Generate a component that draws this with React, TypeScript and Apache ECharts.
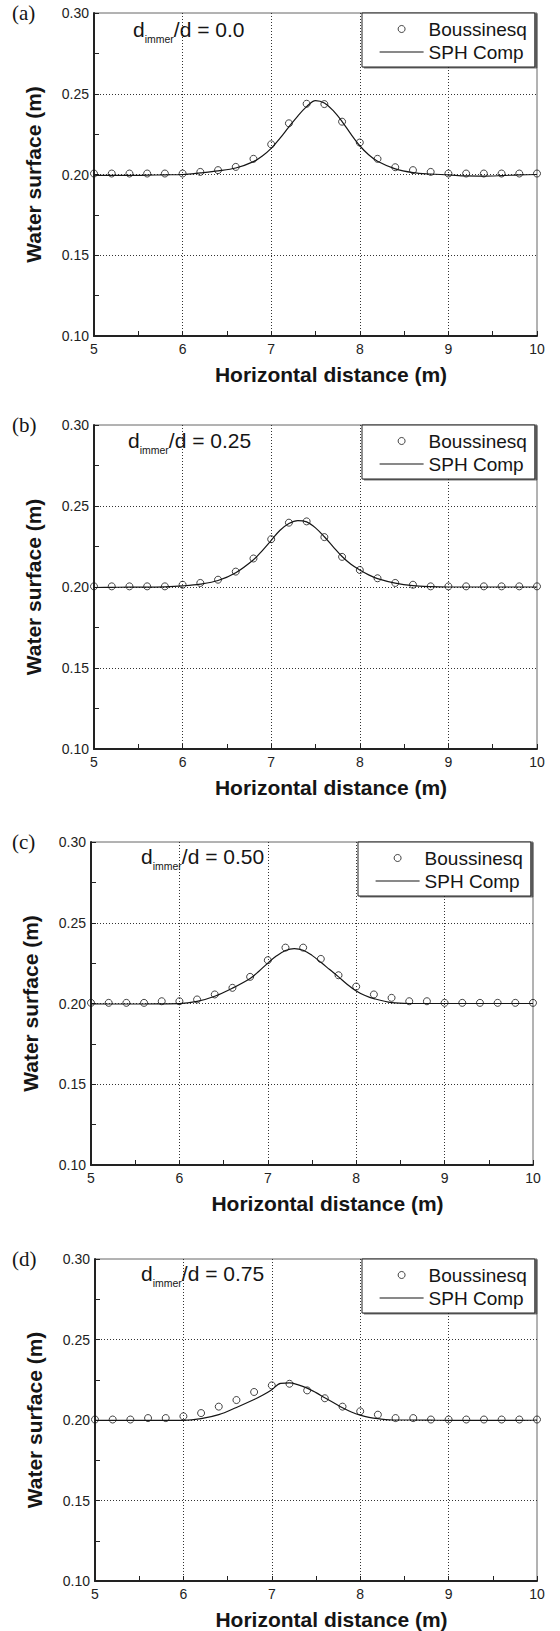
import React, { useEffect, useRef } from 'react';
import * as echarts from 'echarts';

// Boussinesq sample positions (m)
const X_BOUSS = [5.0, 5.2, 5.4, 5.6, 5.8, 6.0, 6.2, 6.4, 6.6, 6.8, 7.0, 7.2, 7.4, 7.6, 7.8, 8.0, 8.2, 8.4, 8.6, 8.8, 9.0, 9.2, 9.4, 9.6, 9.8, 10.0];

const BOUSS_A = [0.2006, 0.2006, 0.2006, 0.2006, 0.2006, 0.2006, 0.2016, 0.2027, 0.2047, 0.2097, 0.2187, 0.2317, 0.2438, 0.2436, 0.2327, 0.2198, 0.2097, 0.2045, 0.2027, 0.2016, 0.2006, 0.2006, 0.2006, 0.2006, 0.2006, 0.2006];
const BOUSS_B = [0.2004, 0.2004, 0.2004, 0.2004, 0.2004, 0.2014, 0.2025, 0.2045, 0.2095, 0.2176, 0.2295, 0.2397, 0.2405, 0.2308, 0.2186, 0.2105, 0.2054, 0.2025, 0.2014, 0.2004, 0.2004, 0.2004, 0.2004, 0.2004, 0.2004, 0.2004];
const BOUSS_C = [0.2004, 0.2004, 0.2004, 0.2004, 0.2014, 0.2014, 0.2025, 0.2056, 0.2097, 0.2165, 0.2268, 0.2346, 0.2346, 0.2276, 0.2175, 0.2105, 0.2056, 0.2035, 0.2014, 0.2014, 0.2004, 0.2004, 0.2004, 0.2004, 0.2004, 0.2004];
const BOUSS_D = [0.2003, 0.2003, 0.2003, 0.2012, 0.2012, 0.2023, 0.2043, 0.2083, 0.2124, 0.2174, 0.2215, 0.2225, 0.2184, 0.2135, 0.2083, 0.2054, 0.2033, 0.2012, 0.2012, 0.2003, 0.2003, 0.2003, 0.2003, 0.2003, 0.2003, 0.2003];

// SPH Comp curve positions (m)
const SPH_X = [5.0, 5.2, 5.4, 5.6, 5.8, 6.0, 6.2, 6.4, 6.6, 6.8, 6.9, 7.0, 7.1, 7.2, 7.3, 7.4, 7.5, 7.6, 7.7, 7.8, 7.9, 8.0, 8.1, 8.2, 8.4, 8.6, 8.8, 9.0, 9.2, 9.4, 9.6, 9.8, 10.0];

const SPH_A = [0.1996, 0.1994, 0.1994, 0.1996, 0.1998, 0.2000, 0.2010, 0.2022, 0.2040, 0.2080, 0.2115, 0.2162, 0.2225, 0.2295, 0.2362, 0.2420, 0.2458, 0.2443, 0.2395, 0.2328, 0.2250, 0.2178, 0.2122, 0.2082, 0.2035, 0.2012, 0.2003, 0.1998, 0.1991, 0.1990, 0.1993, 0.1998, 0.2000];
const SPH_B = [0.1997, 0.1998, 0.1999, 0.1999, 0.2001, 0.2007, 0.2018, 0.2040, 0.2088, 0.2168, 0.2225, 0.2288, 0.2350, 0.2392, 0.2410, 0.2402, 0.2365, 0.2310, 0.2248, 0.2188, 0.2140, 0.2105, 0.2075, 0.2052, 0.2024, 0.2008, 0.2002, 0.2000, 0.2000, 0.2000, 0.2000, 0.2000, 0.2000];
const SPH_C = [0.1998, 0.1997, 0.1997, 0.1997, 0.1998, 0.1999, 0.2013, 0.2045, 0.2095, 0.2155, 0.2200, 0.2250, 0.2295, 0.2328, 0.2340, 0.2330, 0.2298, 0.2255, 0.2210, 0.2165, 0.2118, 0.2078, 0.2050, 0.2030, 0.2005, 0.2000, 0.2000, 0.2000, 0.2000, 0.2000, 0.2000, 0.2000, 0.2000];
const SPH_D = [0.1998, 0.1998, 0.1998, 0.1998, 0.1998, 0.1998, 0.2008, 0.2033, 0.2078, 0.2127, 0.2155, 0.2188, 0.2228, 0.2230, 0.2218, 0.2198, 0.2170, 0.2138, 0.2107, 0.2076, 0.2050, 0.2030, 0.2016, 0.2008, 0.2000, 0.2000, 0.1999, 0.1998, 0.1998, 0.1998, 0.1998, 0.1998, 0.2000];

const BOUSS = [BOUSS_A, BOUSS_B, BOUSS_C, BOUSS_D];
const SPH = [SPH_A, SPH_B, SPH_C, SPH_D];

const PANEL_LABELS = ['(a)', '(b)', '(c)', '(d)'];
const RATIOS = ['0.0', '0.25', '0.50', '0.75'];
const SERIES_NAMES = ['Boussinesq', 'SPH Comp'];
const X_TITLE = 'Horizontal distance (m)';
const Y_TITLE = 'Water surface (m)';

const X_MIN = 5, X_MAX = 10, X_STEP = 1;
const Y_MIN = 0.1, Y_MAX = 0.3, Y_STEP = 0.05;

const LAYOUT = [
  { left: 94, top: 13, width: 443, height: 323, annX: 133, annTop: 22, legendLeft: 362 },
  { left: 94, top: 425, width: 443, height: 324, annX: 128, annTop: 433, legendLeft: 362 },
  { left: 91, top: 842, width: 442, height: 323, annX: 141, annTop: 849, legendLeft: 358 },
  { left: 95, top: 1259, width: 442, height: 324, annX: 141, annTop: 1266, legendLeft: 362 },
];

const SANS = '"Liberation Sans", Arial, Helvetica, sans-serif';
const SERIF = '"Liberation Serif", "Times New Roman", serif';
const INK = '#151515';

export default function App() {
  const ref = useRef<HTMLDivElement>(null);

  useEffect(() => {
    if (!ref.current) return;
    const chart = echarts.init(ref.current, undefined, { renderer: 'svg' });

    const series: any[] = [];
    LAYOUT.forEach((_, i) => {
      series.push({
        name: SERIES_NAMES[1],
        type: 'line',
        xAxisIndex: i,
        yAxisIndex: i,
        data: SPH_X.map((x, j) => [x, SPH[i][j]]),
        symbol: 'none',
        showSymbol: false,
        smooth: 0.35,
        itemStyle: { color: INK },
        lineStyle: { color: INK, width: 1.2 },
        z: 3,
      });
      series.push({
        name: SERIES_NAMES[0],
        type: 'scatter',
        xAxisIndex: i,
        yAxisIndex: i,
        data: X_BOUSS.map((x, j) => [x, BOUSS[i][j]]),
        symbol: 'circle',
        symbolSize: 7,
        itemStyle: { color: 'rgba(255,255,255,0)', borderColor: INK, borderWidth: 1 },
        z: 4,
      });
    });

    const option: any = {
      animation: false,
      backgroundColor: '#fff',
      grid: LAYOUT.map((L) => ({
        left: L.left,
        top: L.top,
        width: L.width,
        height: L.height,
        show: true,
        borderColor: '#666',
        borderWidth: 1,
        backgroundColor: 'transparent',
      })),
      xAxis: LAYOUT.map((_, i) => ({
        type: 'value',
        gridIndex: i,
        min: X_MIN,
        max: X_MAX,
        interval: X_STEP,
        name: X_TITLE,
        nameLocation: 'middle',
        nameGap: 27,
        nameTextStyle: {
          fontFamily: SANS,
          fontWeight: 'bold',
          fontSize: 21,
          color: INK,
          lineHeight: 22,
          padding: [0, 0, 0, 31],
        },
        axisLine: { show: true, onZero: false, lineStyle: { color: '#222', width: 2 } },
        axisTick: { show: true, inside: true, length: 5, lineStyle: { color: '#222', width: 1 } },
        minorTick: { show: true, splitNumber: 2, length: 5, lineStyle: { color: '#222', width: 1 } },
        axisLabel: {
          margin: 6,
          fontFamily: SANS,
          fontSize: 14,
          color: '#222',
          formatter: (v: number) => String(Math.round(v)),
        },
        splitLine: {
          show: true,
          showMinLine: false,
          showMaxLine: false,
          lineStyle: { type: [1, 2], color: '#333', width: 1 },
        },
      })),
      yAxis: LAYOUT.map((_, i) => ({
        type: 'value',
        gridIndex: i,
        min: Y_MIN,
        max: Y_MAX,
        interval: Y_STEP,
        name: Y_TITLE,
        nameLocation: 'middle',
        nameGap: 50,
        nameTextStyle: {
          fontFamily: SANS,
          fontWeight: 'bold',
          fontSize: 21,
          color: INK,
          lineHeight: 22,
        },
        axisLine: { show: true, onZero: false, lineStyle: { color: '#222', width: 2 } },
        axisTick: { show: true, inside: true, length: 5, lineStyle: { color: '#222', width: 1 } },
        minorTick: { show: true, splitNumber: 2, length: 5, lineStyle: { color: '#222', width: 1 } },
        axisLabel: {
          margin: 5,
          fontFamily: SANS,
          fontSize: 14,
          color: '#222',
          formatter: (v: number) => v.toFixed(2),
        },
        splitLine: {
          show: true,
          showMinLine: false,
          showMaxLine: false,
          lineStyle: { type: [1, 2], color: '#333', width: 1 },
        },
      })),
      legend: LAYOUT.map((L) => ({
        orient: 'vertical',
        left: L.legendLeft,
        top: L.top,
        padding: [6, 8, 5, 17],
        itemGap: 3,
        itemWidth: 44,
        itemHeight: 7,
        backgroundColor: '#fff',
        borderColor: '#222',
        borderWidth: 1,
        shadowColor: 'rgba(0,0,0,0.55)',
        shadowOffsetX: 2,
        shadowOffsetY: 1,
        shadowBlur: 1,
        selectedMode: false,
        textStyle: { fontFamily: SANS, fontSize: 19, color: INK, lineHeight: 20 },
        data: [
          {
            name: SERIES_NAMES[0],
            icon: 'circle',
            itemStyle: { color: 'rgba(255,255,255,0)', borderColor: INK, borderWidth: 1 },
          },
          {
            name: SERIES_NAMES[1],
            itemStyle: { color: 'rgba(0,0,0,0)', borderColor: 'rgba(0,0,0,0)', borderWidth: 0, opacity: 0 },
            lineStyle: { color: INK, width: 1.2 },
          },
        ],
      })),
      title: [
        ...LAYOUT.map((L, i) => ({
          text: PANEL_LABELS[i],
          left: 12,
          top: L.top - 11,
          padding: 0,
          textStyle: { fontFamily: SERIF, fontSize: 21, fontWeight: 'normal', color: INK, lineHeight: 21 },
        })),
        ...LAYOUT.map((L, i) => ({
          text: `{a|d}{s|immer}{a|/d = ${RATIOS[i]}}`,
          left: L.annX,
          top: L.annTop,
          padding: 0,
          textStyle: {
            fontFamily: SANS,
            fontSize: 21,
            fontWeight: 'normal',
            color: INK,
            rich: {
              a: { fontFamily: SANS, fontSize: 21, color: INK, lineHeight: 22, padding: [0, 0, 4, 0], verticalAlign: 'bottom' },
              s: { fontFamily: SANS, fontSize: 10.5, color: INK, lineHeight: 11, verticalAlign: 'bottom' },
            },
          },
        })),
      ],
      series,
    };

    chart.setOption(option);
    return () => chart.dispose();
  }, []);

  return (
    <div
      ref={ref}
      style={{ position: 'absolute', left: 0, top: 0, width: 560, height: 1631, background: '#fff' }}
    />
  );
}
